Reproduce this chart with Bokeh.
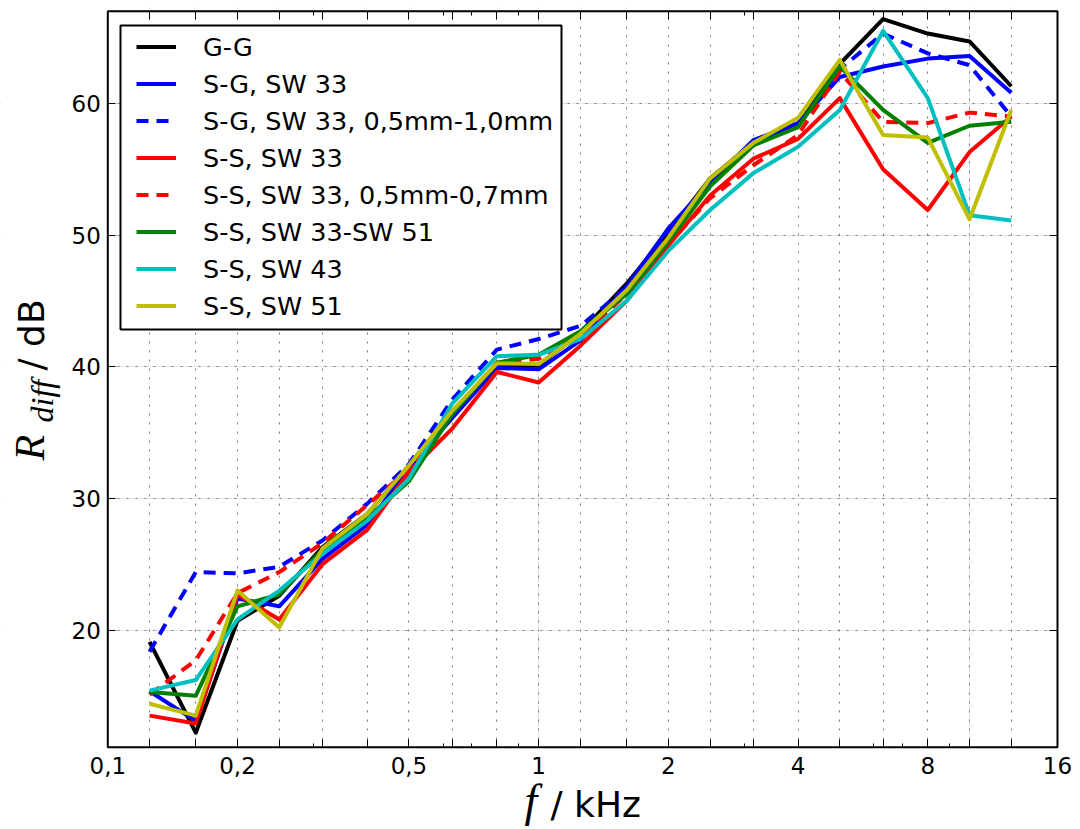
import math
from bokeh.plotting import figure
from bokeh.models import (Range1d, FixedTicker, LogAxis, LinearAxis, Legend, LegendItem,
                          Label, BoxAnnotation, CustomJSTickFormatter, Grid)
from bokeh.embed import file_html
from bokeh.resources import INLINE

# third-octave band centre frequencies in kHz
freqs = [0.125, 0.16, 0.2, 0.25, 0.315, 0.4, 0.5, 0.63, 0.8, 1.0, 1.25,
         1.6, 2.0, 2.5, 3.15, 4.0, 5.0, 6.3, 8.0, 10.0, 12.5]

gg = [19.1, 12.2, 20.7, 22.6, 26.3, 28.8, 32.5, 36.6, 40.1, 40.1, 42.6,
      46.3, 50.2, 54.3, 57.0, 58.3, 63.0, 66.4, 65.3, 64.7, 61.3]
sg33 = [15.35, 13.1, 22.4, 21.8, 25.4, 28.0, 32.3, 36.1, 39.9, 39.8, 42.0,
        46.1, 50.5, 54.0, 57.2, 58.5, 62.0, 62.8, 63.4, 63.6, 60.8]
sg33_gap = [18.35, 24.4, 24.3, 24.8, 26.8, 29.6, 32.6, 37.5, 41.3, 42.1, 43.1,
            46.0, 50.0, 54.0, 57.0, 58.4, 62.6, 65.3, 63.8, 62.9, 59.0]
ss33 = [13.5, 12.9, 22.7, 20.8, 25.0, 27.6, 32.0, 35.3, 39.6, 38.8, 41.6,
        45.0, 49.2, 53.0, 55.8, 57.3, 60.4, 55.0, 51.9, 56.3, 59.0]
ss33_gap = [15.1, 17.7, 22.8, 24.4, 26.6, 29.5, 32.2, 36.5, 40.3, 40.6, 42.3,
            45.5, 49.3, 52.8, 55.3, 57.6, 62.4, 58.6, 58.5, 59.3, 59.0]
ss33_51 = [15.3, 15.0, 21.8, 22.7, 26.1, 28.5, 31.3, 36.4, 40.3, 40.9, 42.7,
           45.5, 49.5, 53.7, 56.8, 58.2, 62.8, 59.5, 57.0, 58.3, 58.6]
ss43 = [15.4, 16.2, 20.8, 23.0, 25.8, 28.3, 31.5, 37.2, 40.8, 40.9, 42.1,
        45.0, 48.8, 51.9, 54.7, 56.7, 59.5, 65.5, 60.4, 51.5, 51.1]
ss51 = [14.4, 13.5, 23.0, 20.2, 26.2, 28.8, 32.5, 36.65, 40.25, 40.2, 42.5,
        45.8, 49.8, 54.3, 57.0, 58.9, 63.3, 57.6, 57.4, 51.2, 59.5]

series_names = ["G-G", "S-G, SW 33", "S-G, SW 33, 0,5mm-1,0mm", "S-S, SW 33",
                "S-S, SW 33, 0,5mm-0,7mm", "S-S, SW 33-SW 51", "S-S, SW 43", "S-S, SW 51"]
series_values = [gg, sg33, sg33_gap, ss33, ss33_gap, ss33_51, ss43, ss51]
series_colors = ["#000000", "#0000ff", "#0000ff", "#ff0000", "#ff0000",
                 "#008000", "#00bfbf", "#bfbf00"]
series_dash = ["solid", "solid", "12 8", "solid", "12 8", "solid", "solid", "solid"]

x_label_values = [0.1, 0.2, 0.5, 1.0, 2.0, 4.0, 8.0, 16.0]
x_label_texts = ["0,1", "0,2", "0,5", "1", "2", "4", "8", "16"]
x_minor = [0.2, 0.3, 0.4, 0.5, 0.6, 0.7, 0.8, 0.9, 2, 3, 4, 5, 6, 7, 8, 9]
y_tick_values = [20, 30, 40, 50, 60]
x_lo, x_hi = 0.1, 16.0
y_lo, y_hi = 11.1, 67.0

# ---- layout (pixels): canvas size and where the axes box sits in it ----
W, H = 1080, 829
BOX_L, BOX_R, BOX_T, BOX_B = 107.3, 1057.0, 10.7, 746.7

kx = (BOX_R - BOX_L) / (math.log10(x_hi) - math.log10(x_lo))
ky = (BOX_B - BOX_T) / (y_hi - y_lo)
xr = Range1d(10 ** (math.log10(x_lo) - BOX_L / kx), 10 ** (math.log10(x_hi) + (W - BOX_R) / kx))
yr = Range1d(y_lo - (H - BOX_B) / ky, y_hi + BOX_T / ky)

p = figure(width=W, height=H, x_axis_type="log", x_range=xr, y_range=yr,
           x_axis_location=None, y_axis_location=None, title=None,
           output_backend="svg", toolbar_location=None,
           min_border=0, min_border_left=0, min_border_right=0,
           min_border_top=0, min_border_bottom=0)
p.background_fill_color = "white"
p.border_fill_color = "white"
p.outline_line_color = None

band_ticker = FixedTicker(ticks=[], minor_ticks=freqs)
sub_ticker = FixedTicker(ticks=[], minor_ticks=x_minor)
xlab_ticker = FixedTicker(ticks=x_label_values, minor_ticks=x_minor)
ytick_only = FixedTicker(ticks=[], minor_ticks=y_tick_values)
yticker = FixedTicker(ticks=y_tick_values, minor_ticks=[])

fmt = CustomJSTickFormatter(args=dict(vals=x_label_values, txt=x_label_texts), code="""
for (let i = 0; i < vals.length; i++) {
  if (Math.abs(Math.log10(tick) - Math.log10(vals[i])) < 1e-6) { return txt[i]; }
}
return String(tick);
""")


def tick_only_axis(cls, ticker, length, loc, bounds):
    ax = cls(ticker=ticker, fixed_location=loc, bounds=bounds)
    ax.axis_line_color = None
    ax.major_tick_in = 0
    ax.major_tick_out = 0
    ax.minor_tick_in = length
    ax.minor_tick_out = 0
    ax.minor_tick_line_color = "black"
    ax.minor_tick_line_width = 1
    ax.major_label_standoff = 0
    return ax


def labelled_axis(cls, ticker, standoff, loc, bounds):
    ax = cls(ticker=ticker, fixed_location=loc, bounds=bounds)
    ax.axis_line_color = None
    ax.major_tick_in = 8
    ax.major_tick_out = 0
    ax.minor_tick_in = 4
    ax.minor_tick_out = 0
    ax.major_tick_line_color = "black"
    ax.minor_tick_line_color = "black"
    ax.major_tick_line_width = 1
    ax.minor_tick_line_width = 1
    ax.major_label_text_font = "DejaVu Sans"
    ax.major_label_text_font_size = "23px"
    ax.major_label_text_color = "black"
    ax.major_label_standoff = standoff
    return ax


# grids (drawn first), then white masks outside the axes box
xgrid = Grid(dimension=0, ticker=FixedTicker(ticks=freqs))
ygrid = Grid(dimension=1, ticker=FixedTicker(ticks=y_tick_values))
for g in (xgrid, ygrid):
    g.grid_line_color = "#7a7a7a"
    g.grid_line_dash = "2 7"
    g.grid_line_width = 1
    p.add_layout(g, "center")

for kw in (dict(top=y_lo), dict(bottom=y_hi), dict(right=x_lo), dict(left=x_hi)):
    p.add_layout(BoxAnnotation(level="underlay", fill_color="white", fill_alpha=1,
                               line_color=None, **kw))

# axes at the edges of the axes box
p.add_layout(tick_only_axis(LogAxis, band_ticker, 8, y_lo, (x_lo, x_hi)), "below")
xa = labelled_axis(LogAxis, xlab_ticker, 10, y_lo, (x_lo, x_hi))
xa.formatter = fmt
p.add_layout(xa, "below")
p.add_layout(tick_only_axis(LogAxis, band_ticker, 8, y_hi, (x_lo, x_hi)), "above")
p.add_layout(tick_only_axis(LogAxis, sub_ticker, 4, y_hi, (x_lo, x_hi)), "above")
ya = labelled_axis(LinearAxis, yticker, 7, x_lo, (y_lo, y_hi))
ya.minor_tick_in = 0
p.add_layout(ya, "left")
p.add_layout(tick_only_axis(LinearAxis, ytick_only, 8, x_hi, (y_lo, y_hi)), "right")

items = []
for name, vals, col, dash in zip(series_names, series_values, series_colors, series_dash):
    r = p.line(freqs, vals, line_color=col, line_width=4, line_dash=dash,
               line_join="round", line_cap="butt")
    items.append(LegendItem(label=name, renderers=[r]))

# axes box outline
p.add_layout(BoxAnnotation(left=x_lo, right=x_hi, bottom=y_lo, top=y_hi,
                           fill_alpha=0, line_color="black", line_alpha=1, line_width=2))

# legend frame
p.add_layout(BoxAnnotation(left=120, right=561, top=25, bottom=329,
                           left_units="canvas", right_units="canvas",
                           top_units="canvas", bottom_units="canvas",
                           fill_color="white", fill_alpha=1,
                           line_color="black", line_alpha=1, line_width=2))

legend = Legend(items=items, location=(136, 505), padding=0, margin=0, spacing=0,
                glyph_width=40, glyph_height=37, label_height=37, label_standoff=27,
                label_text_font="DejaVu Sans", label_text_font_size="25.5px",
                label_text_color="black",
                border_line_alpha=0, background_fill_alpha=0)
p.add_layout(legend, "center")

# axis titles (screen px from bottom-left of the canvas; anchored at text middle)
def lab(x, y, text, font, size, style="normal", angle=0.0):
    p.add_layout(Label(x=x, y=y, x_units="screen", y_units="screen", text=text,
                       angle=angle, text_font=font, text_font_style=style,
                       text_font_size=size, text_align="left", text_baseline="middle",
                       text_color="black"))

lab(524, 29, "f", "Liberation Serif", "46px", "italic")
lab(550, 25, "/ kHz", "DejaVu Sans", "36px")
lab(29, 369, "R", "Liberation Serif", "42px", "italic", math.pi / 2)
lab(41, 407, "diff", "Liberation Serif", "32px", "italic", math.pi / 2)
lab(30.5, 459, "/ dB", "DejaVu Sans", "36px", "normal", math.pi / 2)

open("out.html", "w").write(file_html(p, INLINE))
